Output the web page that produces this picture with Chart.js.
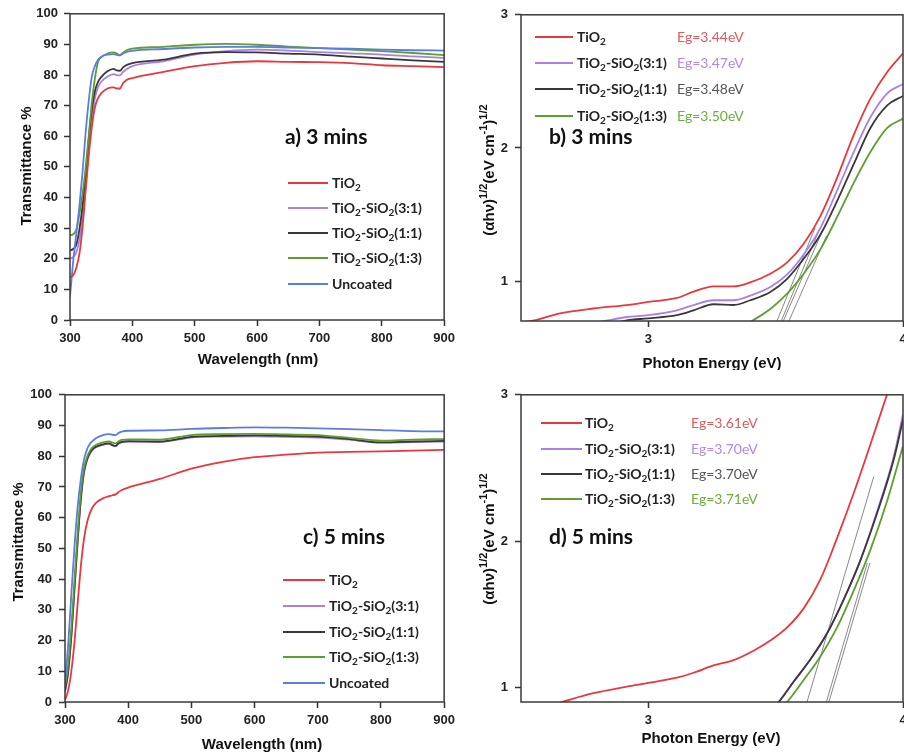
<!DOCTYPE html>
<html>
<head>
<meta charset="utf-8">
<script src="https://cdn.jsdelivr.net/npm/chart.js@4.4.0/dist/chart.umd.min.js"></script>
<style>
  html, body { margin: 0; padding: 0; background: #fff; }
  body { width: 904px; height: 755px; position: relative; overflow: hidden; }
  canvas { position: absolute; }
</style>
</head>
<body>
<canvas id="panelA" width="460" height="372" style="left:0;top:0"></canvas>
<canvas id="panelB" width="460" height="370" style="left:460px;top:0"></canvas>
<canvas id="panelC" width="460" height="375" style="left:0;top:380px"></canvas>
<canvas id="panelD" width="460" height="375" style="left:460px;top:380px"></canvas>
<script>
// ---- data ----
const seriesNames = ['TiO2', 'TiO2-SiO2(3:1)', 'TiO2-SiO2(1:1)', 'TiO2-SiO2(1:3)', 'Uncoated'];
const wavelength = [300, 305, 310, 315, 320, 325, 330, 335, 340, 345, 350, 360, 370, 375, 380, 385, 390, 400, 450, 500, 550, 600, 650, 700, 750, 800, 850, 900];
const wavelengthTicks = [300, 400, 500, 600, 700, 800, 900];
const transTicks = [0, 10, 20, 30, 40, 50, 60, 70, 80, 90, 100];

// a) 3 mins transmittance (%)
const tio2_3 = [14, 14.5, 17, 21.5, 30, 42, 53.5, 63, 69.5, 72.5, 74, 75.6, 76, 75.6, 75.6, 77.3, 78.3, 79, 81, 82.9, 84, 84.5, 84.3, 84.2, 83.9, 83.2, 82.9, 82.6];
const ts31_3 = [20, 20.5, 22, 26, 33, 43.5, 56, 65.8, 72.5, 76, 77.8, 79.5, 80.3, 80, 79.9, 81, 81.8, 82.9, 84.5, 86.7, 87.8, 88.3, 88, 87.5, 87.1, 86.7, 86.1, 85.6];
const ts11_3 = [22.7, 23.2, 24.5, 29.5, 37, 47.5, 59, 68.8, 74.8, 77.8, 79.3, 81.2, 82, 81.5, 81.4, 82.5, 83.2, 83.9, 85, 87, 87.5, 87.4, 87, 86.7, 86, 85.4, 84.8, 84.3];
const ts13_3 = [27.6, 28, 29.5, 34.5, 41, 49.5, 60, 71, 79, 84.3, 85.8, 87, 87.4, 87, 86.5, 87.3, 88, 88.6, 89.2, 89.9, 90.2, 89.9, 89.3, 88.8, 88.3, 87.8, 87.2, 86.5];
const unc_3 = [7.6, 19, 28, 37, 48, 61, 71.5, 79.5, 83, 85, 86, 86.7, 86.8, 86.6, 86.4, 87, 87.5, 87.9, 88.5, 89, 89.2, 89.2, 89, 88.8, 88.6, 88.3, 88.1, 88];

// c) 5 mins transmittance (%)
const tio2_5 = [0.6, 3.8, 10, 19.5, 32, 44, 53, 58.5, 61.8, 63.8, 65, 66.3, 67, 67.3, 67.6, 68.4, 69, 69.8, 72.6, 76, 78.2, 79.7, 80.5, 81.2, 81.4, 81.6, 81.8, 82.1];
const ts31_5 = [3, 9.5, 21, 36.5, 52, 65.5, 74.5, 78.8, 81, 82.3, 83, 83.7, 84, 83.5, 83.2, 84.1, 84.5, 84.7, 84.6, 86.1, 86.4, 86.5, 86.3, 86.1, 85.4, 84.4, 84.6, 84.8];
const ts11_5 = [3.5, 10, 21.5, 37, 52.5, 66, 74.8, 79, 81.3, 82.6, 83.2, 83.9, 84.2, 83.6, 83.4, 84.3, 84.7, 84.9, 84.8, 86.3, 86.6, 86.8, 86.6, 86.4, 85.6, 84.5, 84.8, 85];
const ts13_5 = [5, 12, 24, 39.5, 55, 68, 76, 79.8, 82, 83.2, 83.8, 84.5, 84.8, 84.4, 84.2, 84.9, 85.3, 85.5, 85.4, 86.9, 87.2, 87.3, 87.1, 86.9, 86, 85.1, 85.4, 85.6];
const unc_5 = [6, 18.5, 35, 50.5, 63.5, 72.5, 78.8, 82.3, 84.2, 85.2, 86, 86.9, 87.2, 87, 86.9, 87.6, 88, 88.3, 88.4, 88.9, 89.2, 89.4, 89.3, 89.1, 88.8, 88.5, 88.2, 88.1];

// b) 3 mins Tauc plot, photon energy (eV) vs (ahv)^1/2
const energyTicks = [3, 4];
const taucTicks = [1, 2, 3];
const tio2B_E = [2.5, 2.542, 2.653, 2.784, 2.915, 3.0, 3.112, 3.178, 3.256, 3.335, 3.4, 3.479, 3.545, 3.61, 3.676, 3.741, 3.807, 3.872, 3.938, 4.0];
const tio2B = [0.69, 0.70, 0.757, 0.794, 0.82, 0.843, 0.873, 0.92, 0.96, 0.96, 0.99, 1.055, 1.14, 1.28, 1.49, 1.775, 2.1, 2.37, 2.57, 2.71];
const ts31B_E = [2.8, 2.84, 2.915, 3.0, 3.112, 3.178, 3.256, 3.335, 3.4, 3.479, 3.545, 3.61, 3.676, 3.741, 3.807, 3.872, 3.938, 4.0];
const ts31B = [0.69, 0.705, 0.73, 0.744, 0.78, 0.82, 0.856, 0.856, 0.89, 0.955, 1.05, 1.2, 1.4, 1.68, 1.97, 2.23, 2.41, 2.48];
const ts11B_E = [2.88, 2.915, 3.0, 3.112, 3.178, 3.256, 3.335, 3.4, 3.479, 3.545, 3.61, 3.676, 3.741, 3.807, 3.872, 3.938, 4.0];
const ts11B = [0.69, 0.705, 0.72, 0.744, 0.78, 0.826, 0.82, 0.856, 0.918, 1.017, 1.167, 1.35, 1.6, 1.88, 2.15, 2.32, 2.39];
const ts13B_E = [3.39, 3.407, 3.479, 3.545, 3.61, 3.676, 3.741, 3.807, 3.872, 3.938, 4.0];
const ts13B = [0.68, 0.70, 0.79, 0.905, 1.055, 1.24, 1.48, 1.74, 1.97, 2.15, 2.22];
const tangentsB = [
  [[3.505, 0.7], [3.655, 1.40]],
  [[3.522, 0.7], [3.670, 1.38]],
  [[3.530, 0.7], [3.680, 1.36]],
  [[3.552, 0.7], [3.700, 1.34]]
];
const egB = ['Eg=3.44eV', 'Eg=3.47eV', 'Eg=3.48eV', 'Eg=3.50eV'];

// d) 5 mins Tauc plot
const tio2D_E = [2.62, 2.66, 2.784, 2.915, 3.0, 3.112, 3.178, 3.256, 3.335, 3.413, 3.479, 3.545, 3.61, 3.676, 3.741, 3.807, 3.872, 3.931, 3.97];
const tio2D = [0.88, 0.9, 0.96, 1.005, 1.03, 1.066, 1.1, 1.15, 1.186, 1.25, 1.32, 1.41, 1.54, 1.74, 2.02, 2.33, 2.66, 2.97, 3.17];
const ts31D_E = [3.49, 3.512, 3.571, 3.636, 3.702, 3.767, 3.833, 3.898, 3.964, 4.0];
const ts31D = [0.86, 0.9, 1.04, 1.19, 1.37, 1.6, 1.87, 2.2, 2.58, 2.87];
const ts11D_E = [3.49, 3.512, 3.571, 3.636, 3.702, 3.767, 3.833, 3.898, 3.964, 4.0];
const ts11D = [0.86, 0.9, 1.04, 1.19, 1.37, 1.6, 1.87, 2.19, 2.56, 2.83];
const ts13D_E = [3.52, 3.545, 3.61, 3.675, 3.741, 3.806, 3.872, 3.937, 4.0];
const ts13D = [0.86, 0.9, 1.05, 1.21, 1.41, 1.66, 1.94, 2.27, 2.65];
const tangentsD = [
  [[3.623, 0.9], [3.885, 2.44]],
  [[3.699, 0.9], [3.860, 1.85]],
  [[3.709, 0.9], [3.870, 1.85]]
];
const egD = ['Eg=3.61eV', 'Eg=3.70eV', 'Eg=3.70eV', 'Eg=3.71eV'];

// ---- styling ----
const colors = ['#e8383d', '#a980e6', '#383838', '#5e9e2e', '#5a7ee0'];
const egColors = ['#e25a5e', '#b48ae8', '#555555', '#6eae3c'];
const drawOrder = [0, 3, 2, 1, 0];
const tickFont = { family: '"Liberation Sans", Arial, sans-serif', size: 13, weight: 'bold' };
const axisFont = '"Liberation Sans", Arial, sans-serif';
const calibri = 'Lato, "Open Sans", sans-serif';

// legend labels with subscripts: [text, 'sub'|'']
const legendParts = [
  [['TiO', ''], ['2', 'sub']],
  [['TiO', ''], ['2', 'sub'], ['-SiO', ''], ['2', 'sub'], ['(3:1)', '']],
  [['TiO', ''], ['2', 'sub'], ['-SiO', ''], ['2', 'sub'], ['(1:1)', '']],
  [['TiO', ''], ['2', 'sub'], ['-SiO', ''], ['2', 'sub'], ['(1:3)', '']],
  [['Uncoated', '']]
];
const taucTitle = [['(\u03b1h\u03bd)', ''], ['1/2', 'sup'], ['(eV cm', ''], ['-1', 'sup'], [')', ''], ['1/2', 'sup']];

function toPoints(xs, ys) {
  return xs.map((x, i) => ({ x: x, y: ys[i] }));
}

function richWidth(ctx, parts, size, weight, family) {
  let w = 0;
  parts.forEach(([t, kind]) => {
    const s = kind ? Math.round(size * 0.7) : size;
    ctx.font = weight + ' ' + s + 'px ' + family;
    w += ctx.measureText(t).width;
  });
  return w;
}

function drawRich(ctx, parts, x, y, size, weight, family, color) {
  ctx.fillStyle = color;
  ctx.textBaseline = 'middle';
  ctx.textAlign = 'left';
  parts.forEach(([t, kind]) => {
    const s = kind ? Math.round(size * 0.7) : size;
    let dy = 0;
    if (kind === 'sub') dy = size * 0.32;
    if (kind === 'sup') dy = -size * 0.38;
    ctx.font = weight + ' ' + s + 'px ' + family;
    ctx.fillText(t, x, y + dy);
    x += ctx.measureText(t).width;
  });
}

function makeDecor(d) {
  return {
    id: 'decor',
    afterDraw(chart) {
      const ctx = chart.ctx;
      const a = chart.chartArea;
      ctx.save();
      // frame
      ctx.strokeStyle = '#3a3a3a';
      ctx.lineWidth = 1.5;
      ctx.strokeRect(a.left, a.top, a.right - a.left, a.bottom - a.top);

      // axis titles
      ctx.fillStyle = '#111';
      ctx.font = 'bold 15px ' + axisFont;
      ctx.textAlign = 'center';
      ctx.textBaseline = 'middle';
      ctx.fillText(d.xTitle[0], d.xTitle[1], d.xTitle[2]);
      ctx.save();
      ctx.translate(d.yTitle[1], d.yTitle[2]);
      ctx.rotate(-Math.PI / 2);
      if (typeof d.yTitle[0] === 'string') {
        ctx.fillText(d.yTitle[0], 0, 0);
      } else {
        const w = richWidth(ctx, d.yTitle[0], 15, 'bold', axisFont);
        drawRich(ctx, d.yTitle[0], -w / 2, 0, 15, 'bold', axisFont, '#111');
      }
      ctx.restore();

      // panel label
      ctx.fillStyle = '#111';
      ctx.font = 'bold 21px ' + calibri;
      ctx.textAlign = 'left';
      ctx.textBaseline = 'middle';
      ctx.fillText(d.label[0], d.label[1], d.label[2]);

      // legend
      d.rows.forEach((ry, i) => {
        ctx.strokeStyle = colors[i];
        ctx.lineWidth = 2;
        ctx.beginPath();
        ctx.moveTo(d.lineX[0], ry);
        ctx.lineTo(d.lineX[1], ry);
        ctx.stroke();
        drawRich(ctx, legendParts[i], d.textX, ry, 14, 'bold', calibri, '#222');
        if (d.eg) {
          ctx.fillStyle = egColors[i];
          ctx.font = '14px ' + calibri;
          ctx.fillText(d.eg[i], d.egX, ry);
        }
      });
      ctx.restore();
    }
  };
}

function makeChart(id, datasets, sc, d) {
  const canvas = document.getElementById(id);
  const W = canvas.width, H = canvas.height;
  const tickGrid = { display: true, drawOnChartArea: false, drawTicks: true, tickLength: 6, tickColor: '#333', tickWidth: 1.5 };
  return new Chart(canvas, {
    type: 'line',
    data: { datasets: datasets },
    options: {
      responsive: false,
      animation: false,
      events: [],
      layout: { padding: { top: d.area.top, left: 0, right: W - d.area.right, bottom: 0 } },
      plugins: { legend: { display: false }, tooltip: { enabled: false } },
      elements: { point: { radius: 0 } },
      scales: {
        x: {
          type: 'linear', min: sc.xMin, max: sc.xMax,
          grid: tickGrid, border: { display: false },
          ticks: { font: tickFont, color: '#222', padding: 5, maxRotation: 0 },
          afterBuildTicks: (s) => { s.ticks = sc.xTicks.map(v => ({ value: v })); },
          afterFit: (s) => { s.height = H - d.area.bottom; }
        },
        y: {
          type: 'linear', min: sc.yMin, max: sc.yMax,
          grid: tickGrid, border: { display: false },
          ticks: { font: tickFont, color: '#222', padding: sc.yPad },
          afterBuildTicks: (s) => { s.ticks = sc.yTicks.map(v => ({ value: v })); },
          afterFit: (s) => { s.width = d.area.left; }
        }
      }
    },
    plugins: [makeDecor(d)]
  });
}

function lineSet(points, i, width) {
  return {
    data: points, borderColor: colors[i], borderWidth: width || 1.8,
    order: drawOrder[i], cubicInterpolationMode: 'monotone', fill: false
  };
}

function tangentSets(lines) {
  return lines.map(l => ({
    data: l.map(p => ({ x: p[0], y: p[1] })), borderColor: '#555', borderWidth: 0.7, order: 5
  }));
}

// ---- panel a ----
makeChart('panelA',
  [tio2_3, ts31_3, ts11_3, ts13_3, unc_3].map((ys, i) => lineSet(toPoints(wavelength, ys), i)),
  { xMin: 300, xMax: 900, xTicks: wavelengthTicks, yMin: 0, yMax: 100, yTicks: transTicks, yPad: 6 },
  {
    area: { left: 70, top: 12, right: 447, bottom: 320 },
    xTitle: ['Wavelength (nm)', 258, 360], yTitle: ['Transmittance %', 27, 166],
    label: ['a) 3 mins', 285, 137],
    lineX: [288, 328], textX: 332, rows: [183, 208, 233, 258, 284]
  });

// ---- panel b ----
makeChart('panelB',
  [[tio2B_E, tio2B], [ts31B_E, ts31B], [ts11B_E, ts11B], [ts13B_E, ts13B]]
    .map((s, i) => lineSet(toPoints(s[0], s[1]), i)).concat(tangentSets(tangentsB)),
  { xMin: 2.5, xMax: 4, xTicks: energyTicks, yMin: 0.7, yMax: 3, yTicks: taucTicks, yPad: 7 },
  {
    area: { left: 61, top: 12, right: 443, bottom: 321 },
    xTitle: ['Photon Energy (eV)', 252, 364], yTitle: [taucTitle, 30, 170],
    label: ['b) 3 mins', 89, 137],
    lineX: [75, 113], textX: 117, rows: [37, 63, 89, 116], eg: egB, egX: 217
  });

// ---- panel c ----
makeChart('panelC',
  [tio2_5, ts31_5, ts11_5, ts13_5, unc_5].map((ys, i) => lineSet(toPoints(wavelength, ys), i)),
  { xMin: 300, xMax: 900, xTicks: wavelengthTicks, yMin: 0, yMax: 100, yTicks: transTicks, yPad: 7 },
  {
    area: { left: 65, top: 14, right: 447, bottom: 322 },
    xTitle: ['Wavelength (nm)', 262, 365], yTitle: ['Transmittance %', 19, 162],
    label: ['c) 5 mins', 303, 157],
    lineX: [283, 325], textX: 329, rows: [200, 226, 252, 277, 303]
  });

// ---- panel d ----
makeChart('panelD',
  [[tio2D_E, tio2D], [ts31D_E, ts31D], [ts11D_E, ts11D], [ts13D_E, ts13D]]
    .map((s, i) => lineSet(toPoints(s[0], s[1]), i)).concat(tangentSets(tangentsD)),
  { xMin: 2.5, xMax: 4, xTicks: energyTicks, yMin: 0.9, yMax: 3, yTicks: taucTicks, yPad: 7 },
  {
    area: { left: 61, top: 14, right: 443, bottom: 322 },
    xTitle: ['Photon Energy (eV)', 251, 359], yTitle: [taucTitle, 30, 159],
    label: ['d) 5 mins', 89, 157],
    lineX: [81, 122], textX: 125, rows: [43, 69, 94, 119], eg: egD, egX: 231
  });
</script>
</body>
</html>
